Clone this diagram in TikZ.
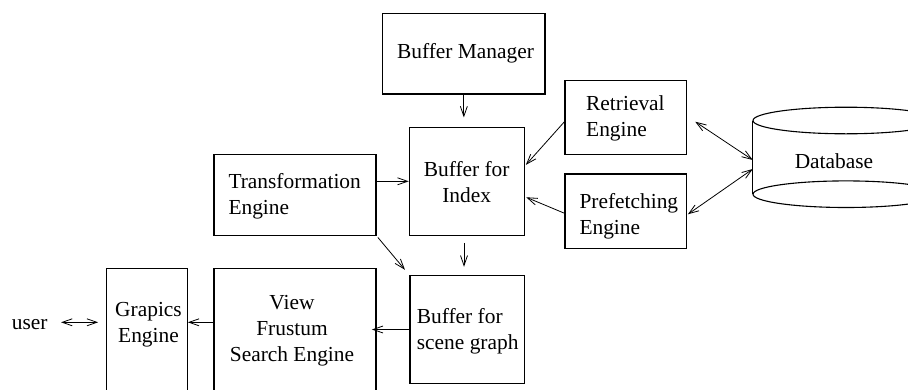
\documentclass[tikz,border=0pt]{standalone}
\usepackage{fontspec}
\setmainfont{Liberation Serif}
\usetikzlibrary{arrows.meta}
\begin{document}
\begin{tikzpicture}[x=1pt,y=-1pt,
  box/.style={draw, line width=1.1pt, inner sep=0pt},
  lbl/.style={inner sep=0pt, font=\fontsize{21.4}{26}\selectfont},
  tip/.tip={Straight Barb[length=10pt,width=7pt]},
  arr/.style={line width=0.8pt, -tip},
  dbl/.style={line width=0.8pt, tip-tip}]
\useasboundingbox (0,0) rectangle (908,389);
\clip (0,0) rectangle (908,389);

% boxes
\node[box, minimum width=162.3pt, minimum height=80.7pt] (bm)  at (463.85,53.65) {};
\node[box, minimum width=115pt,   minimum height=108pt]  (bfi) at (466.8,181.3) {};
\node[box, minimum width=121.7pt, minimum height=73.6pt] (re)  at (625.85,117.5) {};
\node[box, minimum width=121.7pt, minimum height=74.3pt] (pe)  at (625.85,211.15) {};
\node[box, minimum width=162pt,   minimum height=81pt]   (te)  at (295,194.8) {};
\node[box, minimum width=114.3pt, minimum height=107.6pt] (sg) at (467.15,329.5) {};
\node[box, minimum width=80.6pt,  minimum height=128pt]  (ge)  at (147,332.3) {};
\node[box, minimum width=162pt,   minimum height=128pt]  (vf)  at (295,332.3) {};

% database cylinder
\node[minimum width=186pt, minimum height=73.3pt, inner sep=0pt] (db) at (846,157.35) {};
\draw[line width=1.1pt] (db.north west) -- (db.south west);
\draw[line width=1.1pt] (db.north east) -- (db.south east);
\draw[line width=1.1pt] (db.north) ellipse [x radius=93pt, y radius=13.3pt];
\draw[line width=1.1pt] (db.south) ellipse [x radius=93pt, y radius=13.3pt];

% labels
\node[lbl, anchor=base] (bmt) at (465.5,58.3) {Buffer Manager};
\node[lbl, align=center] (bfit) at (466.7,181.7) {Buffer for\\Index};
\node[lbl, align=left, anchor=west] (ret) at (586,118) {Retrieval\\Engine};
\node[lbl, align=left, anchor=west] (pet) at (579.3,216.2) {Prefetching\\Engine};
\node[lbl, align=left, anchor=west] (tet) at (228.3,196.2) {Transformation\\Engine};
\node[lbl, align=left, anchor=west] (sgt) at (416.7,331.3) {Buffer for\\scene graph};
\node[lbl, align=center] (get) at (148.5,324.5) {Grapics\\Engine};
\node[lbl, align=center] (vft) at (292,330.7) {View\\Frustum\\Search Engine};
\node[lbl, anchor=base] (dbt) at (834,168.3) {Database};
\node[lbl, anchor=base] (user) at (29.7,329.3) {user};

% connectors
\draw[arr, shorten >=9.3pt] (bm.south) -- (bm.south |- bfi.north);
\draw[arr, shorten <=7pt, shorten >=8.4pt] ([xshift=-2.8pt]bfi.south) -- ([xshift=-2.8pt]bfi.south |- sg.north);
\draw[arr] (bfi.west -| te.east) -- (bfi.west);
\draw[arr, shorten >=1.5pt] ([yshift=-4.2pt]re.west) -- ([yshift=15.3pt]bfi.east);
\draw[arr, shorten >=1.5pt] ([yshift=-2.1pt]pe.west) -- ([yshift=-15.4pt]bfi.east);
\draw[arr, shorten <=2pt, shorten >=7pt] (te.south east) -- (sg.north west);
\draw[arr, shorten >=-4.7pt] (sg.west) -- (sg.west -| vf.east);
\coordinate (vfw) at ([yshift=10pt]vf.west);
\draw[arr] (vfw) -- (vfw -| ge.east);
\coordinate (gew) at ([yshift=10pt]ge.west);
\draw[dbl, shorten <=13.3pt, shorten >=8pt] (user.east |- gew) -- (gew);
\draw[dbl] ([xshift=8pt,yshift=-4.2pt]re.east) -- ([yshift=-2.65pt]db.west);
\draw[dbl] ([xshift=0.6pt,yshift=-3.15pt]pe.east) -- ([yshift=-11.65pt]db.west);
\end{tikzpicture}
\end{document}
